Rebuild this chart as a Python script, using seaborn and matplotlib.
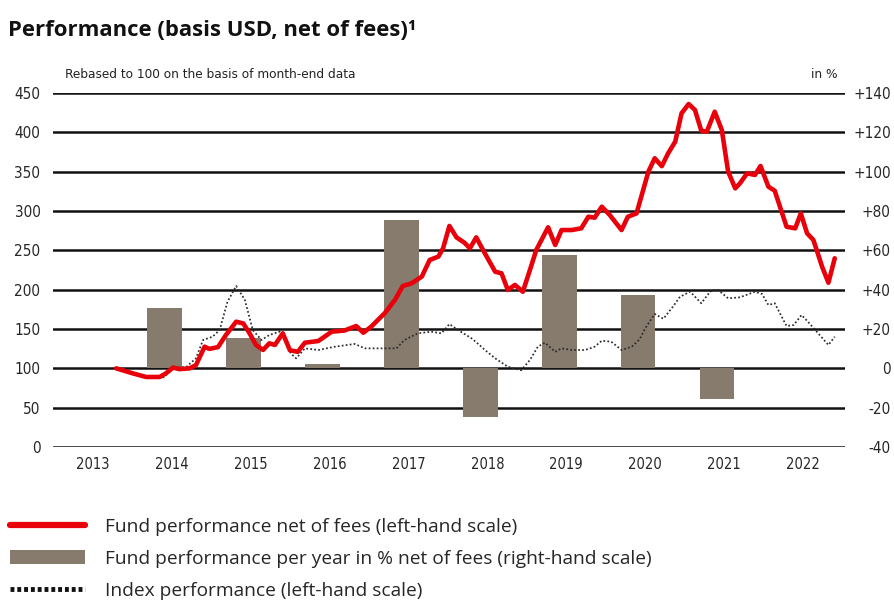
import matplotlib
matplotlib.use("Agg")
import matplotlib.pyplot as plt
from matplotlib.lines import Line2D
from matplotlib.patches import Patch
import seaborn as sns

# Fund performance net of fees, rebased to 100 (left-hand scale)
fund_t = [2013.80, 2014.01, 2014.18, 2014.35, 2014.43, 2014.52, 2014.60, 2014.73, 2014.81,
          2014.92, 2014.98, 2015.09, 2015.19, 2015.32, 2015.41, 2015.49, 2015.57, 2015.66,
          2015.74, 2015.81, 2015.91, 2016.00, 2016.10, 2016.19, 2016.36, 2016.53, 2016.69,
          2016.84, 2016.93, 2017.03, 2017.20, 2017.33, 2017.43, 2017.54, 2017.67, 2017.77,
          2017.88, 2017.94, 2018.02, 2018.11, 2018.21, 2018.28, 2018.36, 2018.47, 2018.60,
          2018.68, 2018.76, 2018.85, 2018.95, 2019.04, 2019.12, 2019.27, 2019.36, 2019.44,
          2019.57, 2019.69, 2019.78, 2019.86, 2019.95, 2020.05, 2020.20, 2020.28, 2020.39,
          2020.45, 2020.54, 2020.62, 2020.71, 2020.79, 2020.88, 2020.96, 2021.05, 2021.13,
          2021.21, 2021.28, 2021.38, 2021.47, 2021.55, 2021.64, 2021.70, 2021.79, 2021.89,
          2021.96, 2022.06, 2022.14, 2022.29, 2022.40, 2022.47, 2022.55, 2022.63, 2022.74,
          2022.82, 2022.90]
fund_v = [100, 93.6, 89, 89, 93.6, 101, 99, 100, 104,
          127.5, 124.7, 127, 142.4, 159.3, 157, 144.5, 129.7, 123.4,
          131.8, 129.7, 144.5, 123, 121, 132.6, 134.7, 146.6, 148,
          153.8, 145.3, 153, 170, 186.9, 204.7, 208, 216.5, 237.7,
          242, 252.6, 281, 266.5, 259.7, 252.6, 266.5, 246, 222.8,
          220.8, 199.6, 206, 197.4, 225, 250.4, 279.3, 256.8, 275.8,
          275.8, 278, 292.7, 291.5, 305.5, 295, 275.8, 292.7, 297,
          318.2, 350, 367, 357, 373.3, 388.2, 424.2, 436, 428.4,
          402, 400.8, 426.2, 403, 350, 328.8, 335.2, 347.9, 345.8,
          357.2, 330.9, 325.8, 280, 278, 297, 271.6, 263.1, 229.2,
          208.8, 239.9]

# Index performance, rebased to 100 (left-hand scale)
index_t = [2013.80, 2014.01, 2014.22, 2014.41, 2014.50, 2014.69, 2014.81, 2014.90, 2015.02,
           2015.11, 2015.21, 2015.32, 2015.43, 2015.53, 2015.64, 2015.74, 2015.87, 2015.93,
           2016.01, 2016.08, 2016.19, 2016.36, 2016.57, 2016.82, 2016.95, 2017.20, 2017.35,
           2017.45, 2017.62, 2017.79, 2017.92, 2018.02, 2018.13, 2018.30, 2018.40, 2018.47,
           2018.60, 2018.76, 2018.93, 2019.04, 2019.14, 2019.23, 2019.36, 2019.44, 2019.57,
           2019.74, 2019.86, 2019.95, 2020.07, 2020.20, 2020.33, 2020.43, 2020.50, 2020.62,
           2020.73, 2020.85, 2020.94, 2021.07, 2021.21, 2021.32, 2021.41, 2021.55, 2021.70,
           2021.89, 2021.98, 2022.06, 2022.14, 2022.29, 2022.38, 2022.48, 2022.56, 2022.69,
           2022.82, 2022.90]
index_v = [100, 93, 87.3, 88.6, 100, 102, 112.7, 136, 140.2,
           148.7, 184.7, 204.7, 186.9, 148.7, 136, 142.4, 146.6, 140,
           119, 112.7, 125.4, 123.3, 127.5, 131, 125.4, 125.4, 125.4,
           136, 144.5, 146.6, 144.5, 156.3, 148.7, 138.2, 129.7, 123.3,
           112.7, 102, 97.6, 110.6, 127.5, 132.6, 121, 125.4, 123.3,
           123.3, 127.5, 135.1, 133.8, 123.3, 127.5, 137, 150.9, 169.1,
           163, 178.3, 191, 197.4, 182.7, 197.4, 200.8, 189, 190.3,
           197.4, 194.5, 180.5, 182.7, 153.8, 155.1, 167.8, 159.3, 144.5,
           129.7, 140.2]

# Calendar-year fund performance in % (right-hand scale)
bar_years = [2014, 2015, 2016, 2017, 2018, 2019, 2020, 2021]
bar_pct = [30.8, 15.3, 2.0, 75.4, -24.6, 57.6, 37.3, -15.8]

year_labels = [str(y) for y in range(2013, 2023)]
left_ticks = list(range(0, 451, 50))
right_ticks = list(range(-40, 141, 20))
right_tick_labels = [("+" + str(v)) if v > 0 else str(v) for v in right_ticks]

RED = "#e8000b"
BAR = "#877b6d"
SMALL = dict(fontfamily=["DejaVu Sans"], fontstretch="condensed")

sns.set_style("white")
plt.rcParams["font.family"] = ["Open Sans", "DejaVu Sans"]

fig = plt.figure(figsize=(8.95, 6.0), dpi=100)
ax = fig.add_axes([53 / 895, 1 - 447 / 600, (845 - 53) / 895, (447 - 93) / 600])
ax2 = ax.twinx()

# bars and grid sit on the right-hand scale, lines on top on the left-hand scale
ax.set_zorder(ax2.get_zorder() + 1)
ax.patch.set_visible(False)

bar_x = [y + 0.41 for y in bar_years]
sns.barplot(x=bar_x, y=bar_pct, native_scale=True, width=0.44, color=BAR,
            saturation=1, linewidth=0, errorbar=None, ax=ax2, zorder=3)

sns.lineplot(x=index_t, y=index_v, ax=ax, color="#2a2a2a", linewidth=1.25,
             linestyle=(0, (1, 1.3)), zorder=4)
sns.lineplot(x=fund_t, y=fund_v, ax=ax, color=RED, linewidth=3.3, zorder=5)

xlim = (2013.0, 2023.03)
ax.set_xlim(*xlim)
ax2.set_xlim(*xlim)
ax.set_ylim(0, 450)
ax2.set_ylim(-40, 140)

ax.set_xticks([y + 0.5 for y in range(2013, 2023)])
ax.set_xticklabels(year_labels, fontsize=10.5, **SMALL)
ax.set_yticks(left_ticks)
ax.set_yticklabels([str(v) for v in left_ticks], fontsize=11, **SMALL)
ax2.set_yticks(right_ticks)
ax2.set_yticklabels(right_tick_labels, fontsize=11, **SMALL)
for lab in ax2.get_yticklabels():
    lab.set_horizontalalignment("right")

ax.tick_params(axis="y", length=0, pad=9)
ax.tick_params(axis="x", length=0, pad=7)
ax2.tick_params(axis="y", length=0, pad=33)
ax2.tick_params(axis="x", length=0, labelbottom=False)

ax2.grid(axis="y", color="#111111", linewidth=1.8, zorder=0)
ax2.set_axisbelow(True)
ax.grid(False)
for a in (ax, ax2):
    for s in a.spines.values():
        s.set_visible(False)
    a.set_xlabel("")
    a.set_ylabel("")

fig.text(8 / 895, 1 - 31 / 600, "Performance (basis USD, net of fees)\u00b9",
         fontfamily=["Open Sans", "DejaVu Sans"], fontweight="bold", fontsize=15.9,
         va="center", ha="left", color="#111111")
fig.text(65 / 895, 1 - 75 / 600, "Rebased to 100 on the basis of month-end data",
         fontsize=9.7, va="center", ha="left", color="#222222", **SMALL)
fig.text(838 / 895, 1 - 75 / 600, "in %", fontsize=9.7,
         va="center", ha="right", color="#222222", **SMALL)

handles = [
    Line2D([], [], color=RED, linewidth=4.5),
    Patch(facecolor=BAR, edgecolor="none"),
    Line2D([], [], color="#111111", linewidth=3.5, linestyle=(0, (0.8, 0.6))),
]
labels = [
    "Fund performance net of fees (left-hand scale)",
    "Fund performance per year in % net of fees (right-hand scale)",
    "Index performance (left-hand scale)",
]
fig.legend(handles, labels, loc="upper left", bbox_to_anchor=(10 / 895, 1 - 518 / 600),
           frameon=False, fontsize=13.8, handlelength=3.9, handleheight=0.8,
           handletextpad=1.05, labelspacing=0.72, borderpad=0, borderaxespad=0)

fig.savefig("out.png", dpi=100)
